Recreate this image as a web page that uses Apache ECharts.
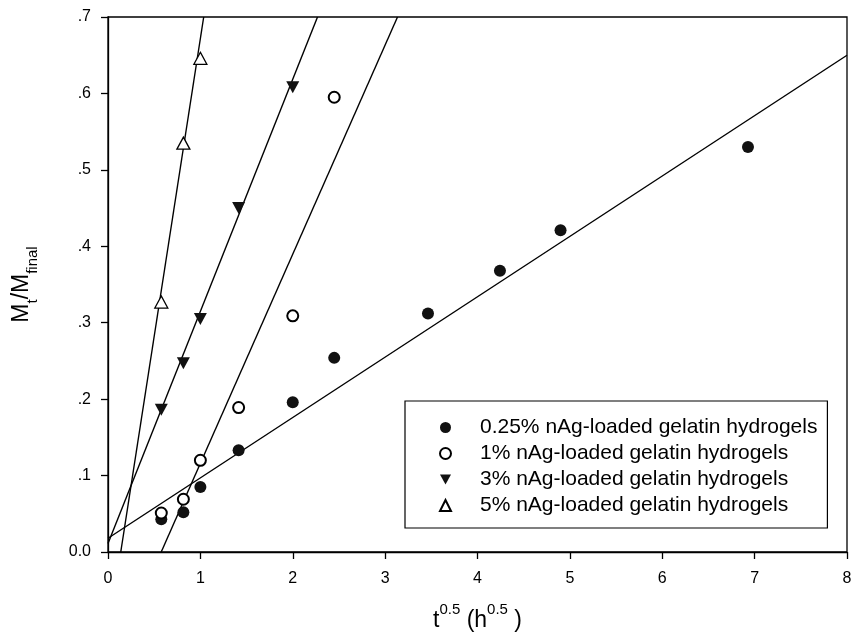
<!DOCTYPE html>
<html>
<head>
<meta charset="utf-8">
<script src="https://cdn.jsdelivr.net/npm/echarts@6/dist/echarts.min.js"></script>
<style>
html,body{margin:0;padding:0;background:#fff;}
#c{width:856px;height:642px;}
</style>
</head>
<body>
<div id="c"></div>
<script>
// ---- data ----
var seriesNames = [
  '0.25% nAg-loaded gelatin hydrogels',
  '1% nAg-loaded gelatin hydrogels',
  '3% nAg-loaded gelatin hydrogels',
  '5% nAg-loaded gelatin hydrogels'
];
var x025 = [0.577, 0.816, 1, 1.414, 2, 2.449, 3.464, 4.243, 4.899, 6.928];
var y025 = [0.043, 0.052, 0.085, 0.133, 0.196, 0.254, 0.312, 0.368, 0.421, 0.530];
var x1 = [0.577, 0.816, 1, 1.414, 2, 2.449];
var y1 = [0.051, 0.069, 0.120, 0.189, 0.309, 0.595];
var x3 = [0.577, 0.816, 1, 1.414, 2];
var y3 = [0.186, 0.247, 0.305, 0.450, 0.608];
var x5 = [0.577, 0.816, 1];
var y5 = [0.327, 0.535, 0.646];
// fitted straight lines: end points (x, y)
var fit025 = [[0, 0.018], [8, 0.650]];
var fit1 = [[0.576, 0], [3.134, 0.7]];
var fit3 = [[0, 0.011], [2.268, 0.7]];
var fit5 = [[0.138, 0], [1.036, 0.7]];
var xTicks = [0, 1, 2, 3, 4, 5, 6, 7, 8];
var yTicks = ['0.0', '.1', '.2', '.3', '.4', '.5', '.6', '.7'];

function pairs(xs, ys) { return xs.map(function (x, i) { return [x, ys[i]]; }); }

var FONT = 'Liberation Sans, Arial, sans-serif';
var triDown = 'path://M0,0L12,0L6,11Z';

var chart = echarts.init(document.getElementById('c'), null, {renderer: 'canvas'});

function fitSeries(d) {
  return {
    type: 'line', data: d, symbol: 'none', silent: true,
    lineStyle: {color: '#000', width: 1.4}, z: 2, clip: true
  };
}

var option = {
  animation: false,
  backgroundColor: '#fff',
  textStyle: {fontFamily: FONT},
  grid: {left: 108, right: 9, top: 17, bottom: 90, show: true, borderColor: '#000', borderWidth: 1.3},
  xAxis: {
    type: 'value', min: 0, max: 8, interval: 1,
    axisLine: {lineStyle: {color: '#000', width: 1.3}},
    axisTick: {inside: false, length: 7, lineStyle: {color: '#000', width: 1.3}},
    axisLabel: {color: '#000', fontSize: 16, fontFamily: FONT, margin: 19,
      formatter: function (v) { return String(xTicks[Math.round(v)]); }},
    splitLine: {show: false},
    name: '{n|t}{s|0.5}{n| (h}{s|0.5}{n| )}',
    nameLocation: 'middle', nameGap: 50,
    nameTextStyle: {
      rich: {
        n: {fontSize: 23, fontFamily: FONT, color: '#000', lineHeight: 30, verticalAlign: 'bottom'},
        s: {fontSize: 15, fontFamily: FONT, color: '#000', lineHeight: 16, verticalAlign: 'top'}
      }
    }
  },
  yAxis: {
    type: 'value', min: 0, max: 0.7, interval: 0.1,
    axisLine: {lineStyle: {color: '#000', width: 1.3}},
    axisTick: {inside: false, length: 7, lineStyle: {color: '#000', width: 1.3}},
    axisLabel: {color: '#000', fontSize: 16, fontFamily: FONT, margin: 17,
      formatter: function (v) { return yTicks[Math.round(v * 10)]; }},
    splitLine: {show: false},
    name: '{n|M}{b|t}{n|/M}{b|final}',
    nameLocation: 'middle', nameGap: 68,
    nameTextStyle: {
      rich: {
        n: {fontSize: 23, fontFamily: FONT, color: '#000', lineHeight: 30, verticalAlign: 'top'},
        b: {fontSize: 15, fontFamily: FONT, color: '#000', lineHeight: 16, verticalAlign: 'bottom'}
      }
    }
  },
  legend: {
    show: true,
    data: seriesNames,
    orient: 'vertical',
    left: 405, top: 401,
    borderColor: '#000', borderWidth: 1.2,
    padding: [16, 10, 12, 34],
    itemWidth: 11, itemHeight: 11, itemGap: 5,
    textStyle: {fontSize: 21, fontFamily: FONT, color: '#000', padding: [0, 0, 0, 24]},
    selectedMode: false
  },
  series: [
    fitSeries(fit025), fitSeries(fit1), fitSeries(fit3), fitSeries(fit5),
    {
      name: seriesNames[0], type: 'scatter', data: pairs(x025, y025),
      symbol: 'circle', symbolSize: 12, z: 5,
      itemStyle: {color: '#111', borderColor: '#000', borderWidth: 0, opacity: 1}
    },
    {
      name: seriesNames[1], type: 'scatter', data: pairs(x1, y1),
      symbol: 'emptyCircle', symbolSize: 11, z: 5,
      itemStyle: {color: '#000', borderColor: '#000', borderWidth: 1.4, opacity: 1}
    },
    {
      name: seriesNames[2], type: 'scatter', data: pairs(x3, y3),
      symbol: triDown, symbolSize: [13, 12], z: 5,
      itemStyle: {color: '#111', opacity: 1}
    },
    {
      name: seriesNames[3], type: 'scatter', data: pairs(x5, y5),
      symbol: 'triangle', symbolSize: [13, 12], z: 5,
      itemStyle: {color: '#fff', borderColor: '#000', borderWidth: 1.3, opacity: 1}
    }
  ]
};
chart.setOption(option);
</script>
</body>
</html>
